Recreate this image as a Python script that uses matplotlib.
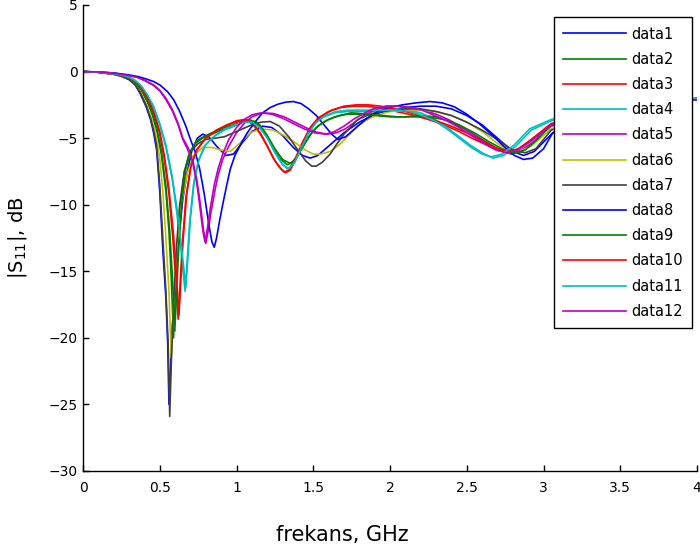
import matplotlib
matplotlib.use("Agg")
import matplotlib.pyplot as plt

# ---------------- data (frequency in GHz, |S11| in dB) ----------------
f1 = [0, 0.1, 0.2, 0.25, 0.3, 0.34, 0.37, 0.41, 0.44, 0.46, 0.48, 0.5, 0.52, 0.54, 0.552,
      0.56, 0.568, 0.58, 0.6, 0.62, 0.65, 0.68, 0.71, 0.745, 0.78, 0.82, 0.87, 0.93, 0.98, 1.04,
      1.1, 1.17, 1.23, 1.3, 1.37, 1.43, 1.48, 1.53, 1.58, 1.64, 1.7, 1.8, 1.9, 2.0, 2.1,
      2.2, 2.3, 2.4, 2.5, 2.6, 2.7, 2.8, 2.87, 2.94, 3.0, 3.06, 3.3, 3.6, 4.0]
s1 = [0, -0.05, -0.2, -0.35, -0.6, -1.0, -1.6, -2.6, -3.6, -4.6, -5.9, -9.0, -13.4, -17.0, -20.5,
      -25.0, -23.0, -19.5, -15.8, -13.0, -9.6, -7.5, -5.9, -5.0, -4.7, -4.9, -5.6, -6.3, -6.2, -5.3,
      -4.5, -4.1, -4.2, -4.8, -5.7, -6.3, -6.5, -6.3, -5.8, -5.2, -4.6, -3.8, -3.2, -2.9, -2.7,
      -2.6, -2.6, -2.8, -3.3, -4.0, -5.0, -6.0, -6.3, -6.0, -5.3, -4.6, -3.6, -2.9, -2.1]

f2 = [0, 0.1, 0.2, 0.25, 0.3, 0.34, 0.38, 0.42, 0.45, 0.48, 0.51, 0.54, 0.56, 0.575, 0.59,
      0.6, 0.615, 0.635, 0.66, 0.69, 0.73, 0.78, 0.84, 0.9, 0.96, 1.02, 1.08, 1.13, 1.18, 1.23,
      1.28, 1.33, 1.37, 1.42, 1.47, 1.52, 1.58, 1.64, 1.72, 1.8, 1.9, 2.0, 2.1, 2.2, 2.3,
      2.4, 2.5, 2.6, 2.7, 2.79, 2.86, 2.94, 3.05, 3.3, 3.6, 4.0]
s2 = [0, -0.05, -0.18, -0.3, -0.5, -0.85, -1.4, -2.3, -3.2, -4.4, -6.2, -9.0, -12.0, -15.5, -20.0,
      -17.0, -13.5, -10.0, -7.6, -6.2, -5.4, -5.0, -4.7, -4.4, -4.2, -3.9, -3.6, -3.8, -4.5, -5.5,
      -6.5, -7.0, -6.8, -5.9, -4.9, -4.2, -3.7, -3.4, -3.2, -3.2, -3.3, -3.4, -3.4, -3.3, -3.4,
      -3.8, -4.4, -5.1, -5.8, -6.2, -6.0, -5.3, -4.0, -3.4, -2.8, -2.1]

f3 = [0, 0.1, 0.2, 0.25, 0.3, 0.34, 0.38, 0.42, 0.46, 0.5, 0.53, 0.56, 0.585, 0.605, 0.62,
      0.632, 0.648, 0.67, 0.7, 0.74, 0.8, 0.87, 0.94, 1.0, 1.05, 1.1, 1.15, 1.2, 1.24, 1.28,
      1.31, 1.34, 1.38, 1.43, 1.48, 1.53, 1.6, 1.68, 1.76, 1.84, 1.92, 2.0, 2.08, 2.16, 2.25,
      2.35, 2.45, 2.55, 2.65, 2.74, 2.82, 2.9, 3.05, 3.3, 3.6, 4.0]
s3 = [0, -0.05, -0.17, -0.28, -0.45, -0.75, -1.25, -2.0, -3.1, -4.7, -6.6, -9.2, -12.5, -15.8, -18.6,
      -16.0, -12.8, -9.5, -7.2, -5.9, -5.0, -4.4, -4.0, -3.7, -3.6, -3.9, -4.6, -5.6, -6.5, -7.2,
      -7.55, -7.4, -6.6, -5.3, -4.2, -3.5, -3.0, -2.7, -2.6, -2.6, -2.7, -2.9, -3.1, -3.3, -3.6,
      -4.0, -4.5, -5.1, -5.6, -6.0, -5.9, -5.3, -4.0, -3.3, -2.7, -2.0]

f4 = [0, 0.1, 0.2, 0.25, 0.3, 0.34, 0.38, 0.42, 0.46, 0.5, 0.54, 0.58, 0.61, 0.635, 0.652,
      0.665, 0.677, 0.695, 0.72, 0.75, 0.79, 0.85, 0.92, 0.98, 1.04, 1.1, 1.15, 1.2, 1.25, 1.29,
      1.33, 1.37, 1.41, 1.46, 1.51, 1.57, 1.64, 1.72, 1.8, 1.88, 1.96, 2.04, 2.12, 2.2, 2.28,
      2.36, 2.44, 2.52, 2.6, 2.67, 2.74, 2.82, 2.92, 3.05, 3.3, 3.6, 4.0]
s4 = [0, -0.05, -0.16, -0.26, -0.42, -0.68, -1.1, -1.8, -2.7, -4.0, -5.7, -8.0, -10.5, -13.0, -15.0,
      -16.5, -14.5, -11.3, -8.5, -6.8, -5.6, -4.9, -4.4, -4.1, -3.8, -3.7, -4.0, -4.8, -6.0, -6.8,
      -7.3, -7.0, -6.0, -4.8, -3.9, -3.4, -3.1, -3.0, -3.0, -3.0, -2.9, -2.8, -2.9, -3.1, -3.5,
      -4.1, -4.8, -5.5, -6.1, -6.5, -6.3, -5.6, -4.4, -3.7, -3.0, -2.6, -2.0]

f5 = [0, 0.1, 0.2, 0.3, 0.36, 0.41, 0.46, 0.5, 0.54, 0.58, 0.62, 0.65, 0.68, 0.71, 0.74,
      0.765, 0.785, 0.8, 0.815, 0.835, 0.86, 0.88, 0.91, 0.95, 1.0, 1.05, 1.1, 1.17, 1.24, 1.31,
      1.38, 1.45, 1.52, 1.59, 1.65, 1.71, 1.77, 1.83, 1.9, 1.98, 2.06, 2.14, 2.22, 2.3, 2.38,
      2.46, 2.54, 2.62, 2.7, 2.77, 2.84, 2.92, 3.05, 3.3, 3.6, 4.0]
s5 = [0, -0.03, -0.12, -0.3, -0.45, -0.7, -1.0, -1.4, -2.0, -2.8, -3.9, -5.0, -5.6, -6.4, -8.0,
      -10.0, -11.9, -12.9, -12.0, -10.5, -8.9, -7.8, -6.6, -5.6, -4.6, -3.9, -3.4, -3.1, -3.15, -3.4,
      -3.8, -4.2, -4.55, -4.7, -4.6, -4.3, -3.8, -3.3, -2.9, -2.6, -2.6, -2.7, -2.9, -3.2, -3.6,
      -4.1, -4.7, -5.3, -5.8, -6.1, -6.0, -5.4, -4.1, -3.3, -2.7, -2.1]

f6 = [0, 0.1, 0.2, 0.25, 0.3, 0.34, 0.37, 0.41, 0.44, 0.47, 0.5, 0.52, 0.54, 0.56, 0.575,
      0.59, 0.61, 0.64, 0.68, 0.72, 0.78, 0.84, 0.9, 0.96, 1.02, 1.09, 1.16, 1.24, 1.31, 1.39,
      1.45, 1.5, 1.55, 1.61, 1.67, 1.73, 1.8, 1.87, 1.94, 2.0, 2.1, 2.2, 2.3, 2.4, 2.5,
      2.6, 2.7, 2.77, 2.84, 2.92, 3.05, 3.3, 3.6, 4.0]
s6 = [0, -0.05, -0.2, -0.35, -0.55, -0.95, -1.4, -2.4, -3.3, -4.5, -6.5, -9.0, -12.5, -16.5, -21.5,
      -17.5, -13.5, -10.0, -7.6, -6.3, -5.7, -5.7, -5.9, -6.0, -5.4, -4.6, -4.3, -4.4, -4.8, -5.4,
      -5.9, -6.2, -6.2, -6.0, -5.5, -4.8, -4.0, -3.5, -3.2, -3.0, -2.9, -2.9, -3.0, -3.3, -3.8,
      -4.5, -5.4, -5.9, -6.0, -5.6, -4.3, -3.5, -2.9, -2.1]

f7 = [0, 0.1, 0.2, 0.25, 0.3, 0.34, 0.37, 0.41, 0.44, 0.46, 0.48, 0.5, 0.52, 0.54, 0.555,
      0.565, 0.575, 0.59, 0.61, 0.63, 0.66, 0.7, 0.75, 0.8, 0.86, 0.92, 0.98, 1.04, 1.1, 1.16,
      1.22, 1.28, 1.34, 1.4, 1.45, 1.49, 1.52, 1.56, 1.61, 1.65, 1.7, 1.79, 1.87, 1.94, 2.02,
      2.1, 2.2, 2.3, 2.4, 2.5, 2.6, 2.7, 2.8, 2.88, 2.95, 3.05, 3.3, 3.6, 4.0]
s7 = [0, -0.05, -0.2, -0.35, -0.6, -1.0, -1.5, -2.5, -3.5, -4.4, -5.6, -8.5, -12.5, -16.5, -20.5,
      -25.9, -22.0, -17.5, -13.0, -10.0, -7.5, -6.0, -5.4, -5.1, -5.0, -4.9, -4.6, -4.3, -4.0, -3.8,
      -3.75, -4.1, -4.9, -5.9, -6.7, -7.1, -7.1, -6.8, -6.2, -5.5, -4.7, -3.6, -3.2, -3.0, -2.9,
      -2.8, -2.8, -3.0, -3.3, -3.8, -4.4, -5.1, -5.9, -6.1, -5.8, -4.4, -3.5, -2.9, -2.1]

f8 = [0, 0.1, 0.2, 0.3, 0.36, 0.41, 0.46, 0.5, 0.55, 0.59, 0.63, 0.67, 0.7, 0.73, 0.76,
      0.79, 0.82, 0.84, 0.855, 0.87, 0.89, 0.91, 0.935, 0.96, 0.99, 1.03, 1.07, 1.12, 1.17, 1.22,
      1.27, 1.32, 1.37, 1.42, 1.47, 1.52, 1.57, 1.62, 1.66, 1.71, 1.77, 1.84, 1.92, 2.0, 2.08,
      2.17, 2.26, 2.34, 2.42, 2.5, 2.58, 2.66, 2.74, 2.81, 2.87, 2.93, 3.0, 3.06, 3.3, 3.6, 4.0]
s8 = [0, -0.03, -0.1, -0.25, -0.38, -0.55, -0.75, -1.0, -1.5, -2.1, -3.0, -4.1, -5.1, -6.0, -7.3,
      -9.2, -11.5, -12.8, -13.2, -12.5, -11.2, -10.0, -8.6, -7.3, -6.3, -5.4, -4.6, -3.8, -3.1, -2.7,
      -2.45, -2.3, -2.25, -2.4, -2.8, -3.3, -4.0, -4.7, -5.1, -4.9, -4.3, -3.6, -3.0, -2.7, -2.5,
      -2.35, -2.25, -2.35, -2.65, -3.2, -3.9, -4.7, -5.6, -6.3, -6.6, -6.5, -5.8, -4.6, -3.5, -2.8, -2.1]

f9 = [0, 0.1, 0.2, 0.25, 0.3, 0.34, 0.38, 0.42, 0.45, 0.48, 0.51, 0.54, 0.565, 0.583, 0.598,
      0.61, 0.625, 0.645, 0.67, 0.7, 0.74, 0.8, 0.86, 0.92, 0.98, 1.04, 1.1, 1.15, 1.2, 1.25,
      1.3, 1.35, 1.39, 1.44, 1.49, 1.54, 1.6, 1.67, 1.75, 1.85, 1.95, 2.05, 2.15, 2.25, 2.35,
      2.45, 2.55, 2.65, 2.73, 2.8, 2.88, 2.96, 3.05, 3.3, 3.6, 4.0]
s9 = [0, -0.05, -0.17, -0.3, -0.48, -0.8, -1.35, -2.2, -3.0, -4.2, -5.9, -8.6, -12.0, -15.5, -19.5,
      -16.5, -13.0, -9.6, -7.3, -6.0, -5.2, -4.8, -4.5, -4.2, -4.0, -3.8, -3.7, -4.0, -4.8, -5.8,
      -6.6, -6.9, -6.5, -5.5, -4.6, -4.0, -3.6, -3.3, -3.1, -3.2, -3.3, -3.4, -3.4, -3.4, -3.6,
      -4.0, -4.6, -5.3, -5.8, -6.1, -5.9, -5.1, -4.0, -3.4, -2.8, -2.1]

f10 = [0, 0.1, 0.2, 0.25, 0.3, 0.34, 0.38, 0.42, 0.46, 0.5, 0.53, 0.56, 0.59, 0.61, 0.625,
       0.637, 0.653, 0.675, 0.705, 0.745, 0.8, 0.87, 0.94, 1.0, 1.06, 1.11, 1.16, 1.21, 1.25, 1.29,
       1.32, 1.35, 1.39, 1.44, 1.49, 1.55, 1.62, 1.7, 1.78, 1.86, 1.94, 2.02, 2.1, 2.2, 2.3,
       2.4, 2.5, 2.6, 2.68, 2.76, 2.84, 2.92, 3.05, 3.3, 3.6, 4.0]
s10 = [0, -0.05, -0.17, -0.28, -0.45, -0.73, -1.2, -1.95, -3.0, -4.5, -6.3, -8.8, -12.3, -15.5, -18.3,
       -15.8, -12.5, -9.3, -7.0, -5.8, -5.0, -4.4, -4.0, -3.8, -3.6, -3.9, -4.7, -5.8, -6.7, -7.3,
       -7.6, -7.4, -6.5, -5.2, -4.1, -3.4, -2.9, -2.6, -2.5, -2.5, -2.6, -2.8, -3.0, -3.3, -3.7,
       -4.1, -4.6, -5.2, -5.7, -6.0, -5.8, -5.1, -3.9, -3.3, -2.7, -2.0]

f11 = [0, 0.1, 0.2, 0.25, 0.3, 0.34, 0.38, 0.42, 0.46, 0.5, 0.54, 0.58, 0.615, 0.64, 0.657,
       0.67, 0.682, 0.7, 0.725, 0.755, 0.8, 0.86, 0.93, 0.99, 1.05, 1.1, 1.15, 1.2, 1.25, 1.3,
       1.34, 1.38, 1.42, 1.47, 1.52, 1.58, 1.65, 1.73, 1.81, 1.89, 1.97, 2.05, 2.13, 2.21, 2.29,
       2.37, 2.45, 2.53, 2.6, 2.66, 2.73, 2.81, 2.91, 3.05, 3.3, 3.6, 4.0]
s11 = [0, -0.05, -0.16, -0.26, -0.42, -0.67, -1.08, -1.75, -2.6, -3.9, -5.5, -7.8, -10.5, -13.0, -14.8,
       -16.2, -14.2, -11.0, -8.2, -6.6, -5.5, -4.8, -4.3, -4.0, -3.8, -3.8, -4.2, -5.0, -6.1, -7.0,
       -7.3, -6.8, -5.8, -4.6, -3.8, -3.3, -3.0, -2.9, -2.9, -2.9, -2.9, -2.9, -3.0, -3.3, -3.7,
       -4.3, -5.0, -5.7, -6.2, -6.4, -6.2, -5.5, -4.3, -3.6, -2.9, -2.5, -2.0]

f12 = [0, 0.1, 0.2, 0.3, 0.36, 0.41, 0.46, 0.5, 0.54, 0.58, 0.62, 0.65, 0.68, 0.71, 0.74,
       0.76, 0.78, 0.795, 0.81, 0.83, 0.855, 0.88, 0.91, 0.95, 1.0, 1.05, 1.1, 1.16, 1.23, 1.3,
       1.37, 1.44, 1.51, 1.58, 1.64, 1.7, 1.76, 1.82, 1.89, 1.97, 2.05, 2.13, 2.21, 2.29, 2.37,
       2.45, 2.53, 2.61, 2.69, 2.76, 2.83, 2.91, 3.05, 3.3, 3.6, 4.0]
s12 = [0, -0.03, -0.12, -0.3, -0.46, -0.72, -1.05, -1.45, -2.1, -2.9, -4.0, -5.1, -5.8, -6.6, -8.3,
       -10.0, -11.9, -12.8, -11.8, -10.2, -8.5, -7.3, -6.2, -5.1, -4.2, -3.6, -3.25, -3.1, -3.2, -3.5,
       -3.9, -4.3, -4.6, -4.7, -4.5, -4.1, -3.6, -3.2, -2.8, -2.6, -2.6, -2.7, -2.9, -3.3, -3.7,
       -4.2, -4.8, -5.4, -5.9, -6.1, -5.9, -5.3, -4.0, -3.3, -2.7, -2.1]

labels = ["data1", "data2", "data3", "data4", "data5", "data6", "data7",
          "data8", "data9", "data10", "data11", "data12"]
xticks = [0, 0.5, 1, 1.5, 2, 2.5, 3, 3.5, 4]
xticklabels = ["0", "0.5", "1", "1.5", "2", "2.5", "3", "3.5", "4"]
yticks = [5, 0, -5, -10, -15, -20, -25, -30]

# MATLAB classic colour order
colors = [(0, 0, 1), (0, 0.5, 0), (1, 0, 0), (0, 0.75, 0.75), (0.75, 0, 0.75),
          (0.75, 0.75, 0), (0.25, 0.25, 0.25)]

freqs = [f1, f2, f3, f4, f5, f6, f7, f8, f9, f10, f11, f12]
vals = [s1, s2, s3, s4, s5, s6, s7, s8, s9, s10, s11, s12]

plt.rcParams['font.family'] = ['DejaVu Sans']
plt.rcParams['mathtext.default'] = 'regular'

fig = plt.figure(figsize=(7.0, 5.51), dpi=100)
ax = fig.add_axes([83 / 700, 80 / 551, 614 / 700, 466 / 551])

for i, (f, s, lab) in enumerate(zip(freqs, vals, labels)):
    ax.plot(f, s, color=colors[i % len(colors)], lw=1.2, label=lab)

ax.set_xlim(0, 4)
ax.set_ylim(-30, 5)
ax.set_xticks(xticks)
ax.set_xticklabels(xticklabels)
ax.set_yticks(yticks)
ax.tick_params(direction='in', length=4, width=1, labelsize=10, colors='black')
ax.tick_params(axis='x', pad=7)
ax.tick_params(axis='y', pad=4)
for side in ['top', 'right']:
    ax.spines[side].set_visible(False)
for side in ['left', 'bottom']:
    ax.spines[side].set_linewidth(1.0)

ax.set_xlabel('frekans, GHz', fontsize=15)
ax.xaxis.set_label_coords(0.422, -0.115)
ax.set_ylabel('|S$_{11}$|, dB', fontsize=14)
ax.yaxis.set_label_coords(-0.088, 0.5)

leg = ax.legend(loc='upper right', bbox_to_anchor=(0.992, 0.974), borderaxespad=0,
                fontsize=10.5, frameon=True, fancybox=False, edgecolor='black',
                framealpha=1, handlelength=4.3, handletextpad=0.35, labelspacing=0.70,
                borderpad=0.65)
leg.get_frame().set_linewidth(1.0)

fig.savefig('out.png', dpi=100)
